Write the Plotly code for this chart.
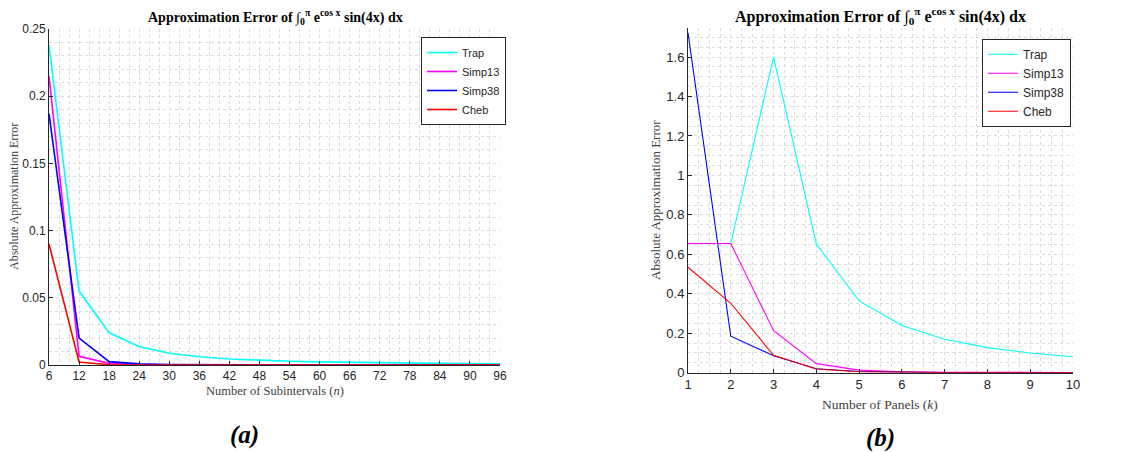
import plotly.graph_objects as go

W, H = 1137, 452

# ---------------- data ----------------
n_sub = [6, 12, 18, 24, 30, 36, 42, 48, 54, 60, 66, 72, 78, 84, 90, 96]
trap_a = [0.238, 0.055, 0.024, 0.0137, 0.0088, 0.0061, 0.0045, 0.0035, 0.0028,
          0.0023, 0.0019, 0.0016, 0.0014, 0.0012, 0.0010, 0.0009]
simp13_a = [0.215, 0.0065, 0.0012, 0.0004, 0.0002, 0.0001, 0.0001, 0.0, 0.0,
            0.0, 0.0, 0.0, 0.0, 0.0, 0.0, 0.0]
simp38_a = [0.187, 0.020, 0.0025, 0.0008, 0.0003, 0.0001, 0.0001, 0.0, 0.0,
            0.0, 0.0, 0.0, 0.0, 0.0, 0.0, 0.0]
cheb_a = [0.090, 0.0022, 0.0002, 0.0, 0.0, 0.0, 0.0, 0.0, 0.0,
          0.0, 0.0, 0.0, 0.0, 0.0, 0.0, 0.0]

k_pan = [1, 2, 3, 4, 5, 6, 7, 8, 9, 10]
trap_b = [0.655, 0.655, 1.600, 0.653, 0.364, 0.239, 0.170, 0.127, 0.100, 0.081]
simp13_b = [0.655, 0.655, 0.213, 0.046, 0.013, 0.005, 0.002, 0.001, 0.001, 0.001]
simp38_b = [1.723, 0.185, 0.086, 0.020, 0.006, 0.002, 0.001, 0.0005, 0.0003, 0.0002]
cheb_b = [0.535, 0.352, 0.088, 0.019, 0.005, 0.002, 0.001, 0.0005, 0.0003, 0.0002]

names = ["Trap", "Simp13", "Simp38", "Cheb"]
colors = ["#00FFFF", "#FF00FF", "#0000FF", "#FF0000"]

left_ticks = [6, 12, 18, 24, 30, 36, 42, 48, 54, 60, 66, 72, 78, 84, 90, 96]
right_ticks = [1, 2, 3, 4, 5, 6, 7, 8, 9, 10]

title_txt = ("<b>Approximation Error of ∫<sub>0</sub><sup>π</sup> "
             "e<sup>cos x</sup> sin(4x) dx</b>")

# ---------------- geometry helpers ----------------
def px(x):
    return x / W

def py(y):
    return 1 - y / H

fig = go.Figure()

for nm, col, ys in zip(names, colors, [trap_a, simp13_a, simp38_a, cheb_a]):
    fig.add_trace(go.Scatter(x=n_sub, y=ys, mode="lines", name=nm,
                             line=dict(color=col, width=1.6),
                             xaxis="x", yaxis="y", legend="legend"))
for nm, col, ys in zip(names, colors, [trap_b, simp13_b, simp38_b, cheb_b]):
    fig.add_trace(go.Scatter(x=k_pan, y=ys, mode="lines", name=nm,
                             line=dict(color=col, width=1.1),
                             xaxis="x2", yaxis="y2", legend="legend2"))

grid_col = "#dadada"
tick_font = dict(family="Liberation Sans, Arial, sans-serif", size=12, color="#262626")

def axis(domain, rng, **kw):
    d = dict(domain=domain, range=rng, showline=True, linecolor="#262626",
             linewidth=1, ticks="inside", ticklen=4, tickcolor="#262626",
             showgrid=True, gridcolor=grid_col, griddash="dot", gridwidth=1,
             zeroline=False, tickfont=tick_font, fixedrange=True,
             automargin=False)
    d.update(kw)
    return d

fig.update_layout(
    width=W, height=H,
    margin=dict(l=0, r=0, t=0, b=0, autoexpand=False),
    paper_bgcolor="white", plot_bgcolor="white",
    xaxis=axis([px(49), px(500)], [6, 96], anchor="y", tickmode="array",
               tickvals=left_ticks,
               minor=dict(dtick=2, showgrid=True, gridcolor=grid_col, griddash="dot")),
    yaxis=axis([py(365), py(29)], [0, 0.25], anchor="x", dtick=0.05,
               minor=dict(dtick=0.01, showgrid=True, gridcolor=grid_col, griddash="dot")),
    xaxis2=axis([px(688), px(1073)], [1, 10], anchor="y2", tickmode="array",
                tickvals=right_ticks, tickfont=dict(tick_font, size=13),
                minor=dict(dtick=0.25, showgrid=True, gridcolor=grid_col, griddash="dot")),
    yaxis2=axis([py(372.7), py(27.5)], [0, 1.75], anchor="x2", dtick=0.2,
                tickfont=dict(tick_font, size=13),
                minor=dict(dtick=0.05, showgrid=True, gridcolor=grid_col, griddash="dot")),
    legend=dict(x=px(421), y=py(37), xanchor="left", yanchor="top",
                bgcolor="white", bordercolor="#262626", borderwidth=1,
                font=dict(family="Liberation Sans, Arial, sans-serif", size=11, color="#262626"),
                itemwidth=30, tracegroupgap=0),
    legend2=dict(x=px(982), y=py(38.7), xanchor="left", yanchor="top",
                 bgcolor="white", bordercolor="#262626", borderwidth=1,
                 font=dict(family="Liberation Sans, Arial, sans-serif", size=12, color="#262626"),
                 itemwidth=30, tracegroupgap=0),
    showlegend=True,
)

serif = "Liberation Serif, Times New Roman, serif"

def note(x, y, text, size, color="#404040", angle=0):
    return dict(x=px(x), y=py(y), text=text, showarrow=False,
                xref="paper", yref="paper", xanchor="center", yanchor="middle",
                textangle=angle, font=dict(family=serif, size=size, color=color))

ann = [
    note(275, 17, title_txt, 14, "#000000"),
    note(880, 16, title_txt, 16, "#000000"),
    note(275, 391, "Number of Subintervals (<i>n</i>)", 12.5),
    note(880, 404, "Number of Panels (<i>k</i>)", 13.5),
    note(14, 197, "Absolute Approximation Error", 12, angle=-90),
    note(655, 200, "Absolute Approximation Error", 13, angle=-90),
    note(244, 435, "<b><i>(a)</i></b>", 25, "#000000"),
    note(880, 438, "<b><i>(b)</i></b>", 25, "#000000"),
]
fig.update_layout(annotations=ann)

fig.write_html("out.html")
